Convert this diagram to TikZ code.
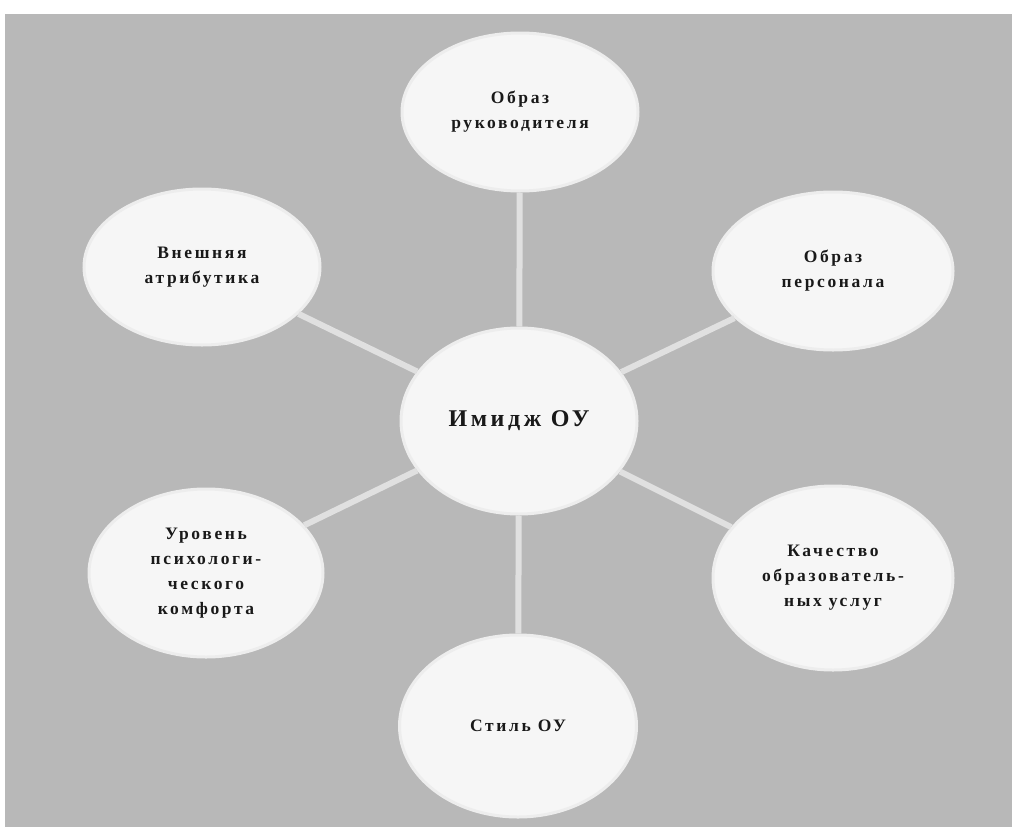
\documentclass[tikz,border=0pt]{standalone}
\usepackage{fontspec}
\setmainfont{Liberation Serif}
\newfontfamily\lblfont[LetterSpace=15]{Liberation Serif}
\usetikzlibrary{shapes.geometric}
\definecolor{bg}{RGB}{184,184,184}
\definecolor{ell}{RGB}{246,246,246}
\definecolor{conn}{RGB}{224,224,224}
\begin{document}
\begin{tikzpicture}[x=1pt,y=-1pt,
  bubble/.style={ellipse, fill=ell, draw=white!93!black, line width=3pt,
    minimum width=236pt, minimum height=162pt, inner sep=0pt, align=center,
    font=\lblfont\bfseries\fontsize{17.5}{25}\selectfont, text=black!90},
  link/.style={draw=conn, line width=6pt}]
\useasboundingbox (0,0) rectangle (1012,827);
\fill[bg] (5,14) rectangle (1012,827);
% nodes
\node[bubble, minimum height=186pt, font=\lblfont\bfseries\fontsize{24}{28}\selectfont] (c) at (519,421) {Имидж ОУ};
\node[bubble, minimum height=158pt] (t) at (520,112) {Образ\\руководителя};
\node[bubble, minimum height=156pt] (tl) at (202,267) {Внешняя\\атрибутика};
\node[bubble, minimum height=158pt, minimum width=240pt] (tr) at (833,271) {Образ\\персонала};
\node[bubble, minimum height=168pt, minimum width=234pt] (bl) at (206,573) {Уровень\\психологи-\\ческого\\комфорта};
\node[bubble, minimum height=184pt, minimum width=240pt] (br) at (833,578) {Качество\\образователь-\\ных услуг};
\node[bubble, minimum height=182pt, minimum width=237pt] (b) at (518,726) {Стиль ОУ};
% connectors
\draw[link] (c) -- (t);
\draw[link] (c) -- (b);
\draw[link] (c) -- (tl);
\draw[link] (c) -- (tr);
\draw[link] (c) -- (bl);
\draw[link] (c) -- (br);
\end{tikzpicture}
\end{document}
